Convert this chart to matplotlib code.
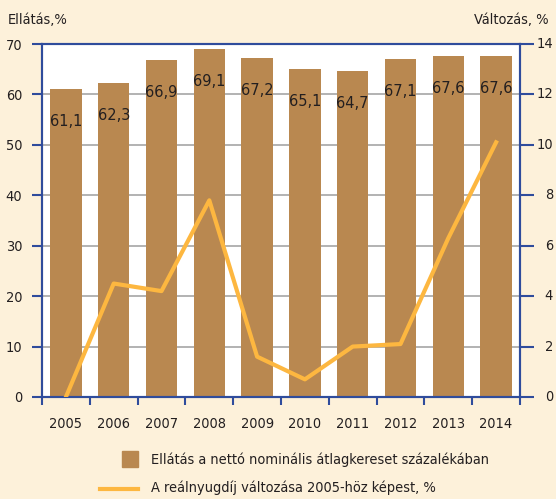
import matplotlib
matplotlib.use("Agg")
import matplotlib.pyplot as plt
from matplotlib import font_manager as fm
import numpy as np

years = ["2005", "2006", "2007", "2008", "2009", "2010", "2011", "2012", "2013", "2014"]
ellatas = [61.1, 62.3, 66.9, 69.1, 67.2, 65.1, 64.7, 67.1, 67.6, 67.6]
valtozas = [0.0, 4.5, 4.2, 7.8, 1.6, 0.7, 2.0, 2.1, 6.3, 10.1]
bar_labels = ["61,1", "62,3", "66,9", "69,1", "67,2", "65,1", "64,7", "67,1", "67,6", "67,6"]
left_ticks = [0, 10, 20, 30, 40, 50, 60, 70]
right_ticks = [0, 2, 4, 6, 8, 10, 12, 14]
leg1 = "Ellátás a nettó nominális átlagkereset százalékában"
leg2 = "A reálnyugdíj változása 2005-höz képest, %"

# pick a condensed font if available
def find_font():
    order = [("Noto Sans", "extra-condensed"), ("Noto Sans", "condensed"),
             ("Noto Sans", "semi-condensed"),
             ("Open Sans", "condensed"), ("Open Sans", "semi-condensed"),
             ("DejaVu Sans", "condensed"), ("Roboto", "condensed"),
             ("Liberation Sans Narrow", None)]
    for name, st in order:
        for f in fm.fontManager.ttflist:
            if f.name == name and f.style == "normal" and f.weight in (400, "normal", "regular") \
                    and (st is None or str(f.stretch) == st):
                return fm.FontProperties(fname=f.fname)
    return fm.FontProperties(family="Liberation Sans")

fp = find_font()

bg = "#FDF1DA"
bar_c = "#B98850"
line_c = "#FDB740"
spine_c = "#2F4C9C"
txt = "#231F20"

fig = plt.figure(figsize=(5.56, 4.99), dpi=100, facecolor=bg)

# fit font size so legend text width matches the reference (~338 px)
probe = fig.text(0, 0, leg1, fontproperties=fp, fontsize=12)
r = fig.canvas.get_renderer()
w = probe.get_window_extent(renderer=r).width
probe.remove()
fsz = min(13.0, 12 * 338.0 / w)

ax = fig.add_axes([42/556, 1-397/499, 478/556, 353/499])
ax.set_facecolor("white")
x = np.arange(len(years))
ax.bar(x, ellatas, width=0.66, color=bar_c, zorder=2)
ax.set_xlim(-0.5, len(years)-0.5)
ax.set_ylim(0, 70)
ax.set_yticks(left_ticks)
ax.yaxis.grid(True, color="#A6A6A6", linewidth=1.2, zorder=0)
ax.set_axisbelow(True)
for xi, v, lab in zip(x, ellatas, bar_labels):
    ax.text(xi, v - 6.5, lab, ha="center", va="center", fontproperties=fp, fontsize=fsz * 1.12, color=txt, zorder=4)

ax.set_xticks(x)
ax.set_xticklabels(years, fontproperties=fp, fontsize=fsz, color=txt)
ax.set_xticks(np.arange(-0.5, len(years)), minor=True)
ax.tick_params(axis="x", which="major", length=0, pad=14.3)
ax.tick_params(axis="x", which="minor", length=6, direction="out", color=spine_c, width=1.5)
ax.tick_params(axis="y", length=7, color=spine_c, width=1.5, labelcolor=txt, pad=7.2)
for tk in ax.yaxis.get_major_ticks():
    tk.label1.set_fontproperties(fp); tk.label1.set_fontsize(fsz)
for s in ax.spines.values():
    s.set_color(spine_c)
    s.set_linewidth(1.5)

ax2 = ax.twinx()
ax2.plot(x, valtozas, color=line_c, linewidth=3, zorder=5)
ax2.set_ylim(0, 14)
ax2.set_yticks(right_ticks)
ax2.tick_params(axis="y", length=10, color=spine_c, width=1.5, labelright=False)
for s in ax2.spines.values():
    s.set_color(spine_c)
    s.set_linewidth(1.5)
# right-aligned tick labels for the right axis
xr = (553 - 42) / 478.0
for v in right_ticks:
    ax2.text(xr, v, str(v), transform=ax2.get_yaxis_transform(), ha="right", va="center",
             fontproperties=fp, fontsize=fsz, color=txt, clip_on=False)

fig.text(8/556, 1-20/499, "Ellátás,%", fontproperties=fp, fontsize=fsz, color=txt, ha="left", va="center")
fig.text(549/556, 1-20/499, "Változás, %", fontproperties=fp, fontsize=fsz, color=txt, ha="right", va="center")

from matplotlib.patches import Rectangle
from matplotlib.lines import Line2D
fig.patches.append(Rectangle((122/556, 1-467/499), 16/556, 16/499, transform=fig.transFigure, color=bar_c))
fig.text(151/556, 1-460/499, leg1, fontproperties=fp, fontsize=fsz, color=txt, va="center")
fig.lines.append(Line2D([100/556, 138/556], [1-489/499, 1-489/499], transform=fig.transFigure, color=line_c, linewidth=3))
fig.text(151/556, 1-488/499, leg2, fontproperties=fp, fontsize=fsz, color=txt, va="center")

fig.savefig("out.png", dpi=100, facecolor=bg)
